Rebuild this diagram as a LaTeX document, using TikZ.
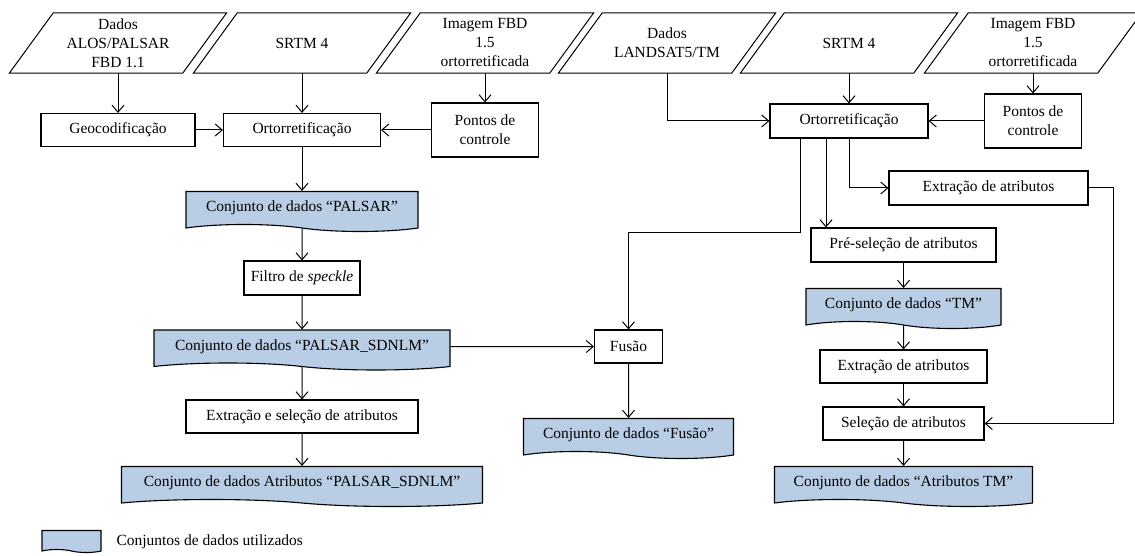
\documentclass[tikz,border=0pt]{standalone}
\usepackage{fontspec}
\setmainfont{Liberation Serif}
\usepackage{tikz}
\usetikzlibrary{shapes.symbols}
\usetikzlibrary{arrows.meta}
\definecolor{azuldados}{RGB}{185,205,229}
\newcommand{\tamanho}{\fontsize{15.5}{19}\selectfont}
\tikzset{
  entrada/.style={rectangle, minimum width=173, minimum height=60,
    inner sep=0pt, align=center},
  moldura/.style={draw, line width=1pt, line join=miter},
  processo/.style={draw, line width=1.1pt, rectangle, minimum height=33,
    inner sep=2pt, align=center},
  dados/.style={draw, line width=1.1pt, fill=azuldados, tape,
    tape bend top=none, tape bend bottom=out and in, tape bend height=7,
    minimum height=40, inner sep=2pt},
  seta/.style={line width=1pt, -{Straight Barb[length=7pt,width=12pt]}},
}
\begin{document}
\begin{tikzpicture}[x=1pt, y=-1pt, font=\tamanho]
    \useasboundingbox (0,0) rectangle (1135,556);
    % entradas
    \node[entrada] (alos) at (118,43) {Dados\\ALOS/PALSAR\\FBD 1.1};
    \node[entrada] (srtma) at (302,43) {SRTM 4};
    \node[entrada] (fbda) at (485,43) {Imagem FBD\\1.5\\ortorretificada};
    \node[entrada] (landsat) at (667,43) {Dados\\LANDSAT5/TM};
    \node[entrada] (srtmb) at (849,43) {SRTM 4};
    \node[entrada] (fbdb) at (1033,43) {Imagem FBD\\1.5\\ortorretificada};
    \foreach \n in {alos,srtma,fbda,landsat,srtmb,fbdb}
      \draw[moldura] ([xshift=-22]\n.south west) -- ([xshift=22]\n.north west)
        -- ([xshift=22]\n.north east) -- ([xshift=-22]\n.south east) -- cycle;
    % ramo PALSAR
    \node[processo, minimum width=154] (geo) at (118,130) {Geocodificação};
    \node[processo, minimum width=157] (ortoa) at (302,130) {Ortorretificação};
    \node[processo, minimum width=107, minimum height=54] (pontosa) at (485,130) {Pontos de\\controle};
    \node[dados, minimum width=232] (palsar) at (302,208) {Conjunto de dados “PALSAR”};
    \node[processo, minimum width=116, minimum height=34] (filtro) at (302,278) {Filtro de \emph{speckle}};
    \node[dados, minimum width=296] (sdnlm) at (302,346.5) {Conjunto de dados “PALSAR\_SDNLM”};
    \node[processo, minimum width=232] (extsel) at (302,416.5) {Extração e seleção de atributos};
    \node[dados, minimum width=361] (atrpalsar) at (302,483) {Conjunto de dados Atributos “PALSAR\_SDNLM”};
    % fusao
    \node[processo, minimum width=68] (fusao) at (628.5,346.5) {Fusão};
    \node[dados, minimum width=210] (dfusao) at (628.5,435) {Conjunto de dados “Fusão”};
    \coordinate (desvio) at (628.5,233);
    % ramo TM
    \node[processo, minimum width=158, minimum height=34] (ortob) at (849,121) {Ortorretificação};
    \node[processo, minimum width=97, minimum height=54] (pontosb) at (1033,121) {Pontos de\\controle};
    \node[processo, minimum width=199, minimum height=34] (extra) at (988.5,188) {Extração de atributos};
    \node[processo, minimum width=185, minimum height=34] (presel) at (903.5,245) {Pré-seleção de atributos};
    \node[dados, minimum width=195] (tm) at (903.5,305) {Conjunto de dados “TM”};
    \node[processo, minimum width=167] (extrb) at (903.5,366.5) {Extração de atributos};
    \node[processo, minimum width=161] (selec) at (903.5,423.5) {Seleção de atributos};
    \node[dados, minimum width=258] (atrtm) at (903.5,483) {Conjunto de dados “Atributos TM”};
    % legenda
    \node[dados, minimum width=59, minimum height=22, tape bend height=3] (legenda) at (71.5,540) {};
    \node[anchor=west] (legtexto) at (113,542) {Conjuntos de dados utilizados};

    \draw[seta] (alos) -- (geo);
    \draw[seta] (srtma) -- (ortoa);
    \draw[seta] (fbda) -- (pontosa);
    \draw[seta] (geo) -- (ortoa);
    \draw[seta] (pontosa) -- (ortoa);
    \draw[seta] (ortoa) -- (palsar);
    \draw[seta] (palsar) -- (filtro);
    \draw[seta] (filtro) -- (sdnlm);
    \draw[seta] (sdnlm) -- (extsel);
    \draw[seta] (extsel) -- (atrpalsar);
    \draw[seta] (sdnlm) -- (fusao);
    \draw[seta] (fusao) -- (dfusao);
    \draw[seta] (landsat) |- (ortob);
    \draw[seta] (srtmb) -- (ortob);
    \draw[seta] (fbdb) -- (pontosb);
    \draw[seta] (pontosb) -- (ortob);
    \draw[seta] (ortob.south) |- (extra);
    \draw[seta] ([xshift=-23]ortob.south) -- ([xshift=-23]ortob.south |- presel.north);
    \draw[seta] ([xshift=-49]ortob.south) |- (desvio) -- (fusao);
    \draw[seta] (extra.east) -- ++(25,0) |- (selec);
    \draw[seta] (presel) -- (tm);
    \draw[seta] (tm) -- (extrb);
    \draw[seta] (extrb) -- (selec);
    \draw[seta] (selec) -- (atrtm);
\end{tikzpicture}
\end{document}
